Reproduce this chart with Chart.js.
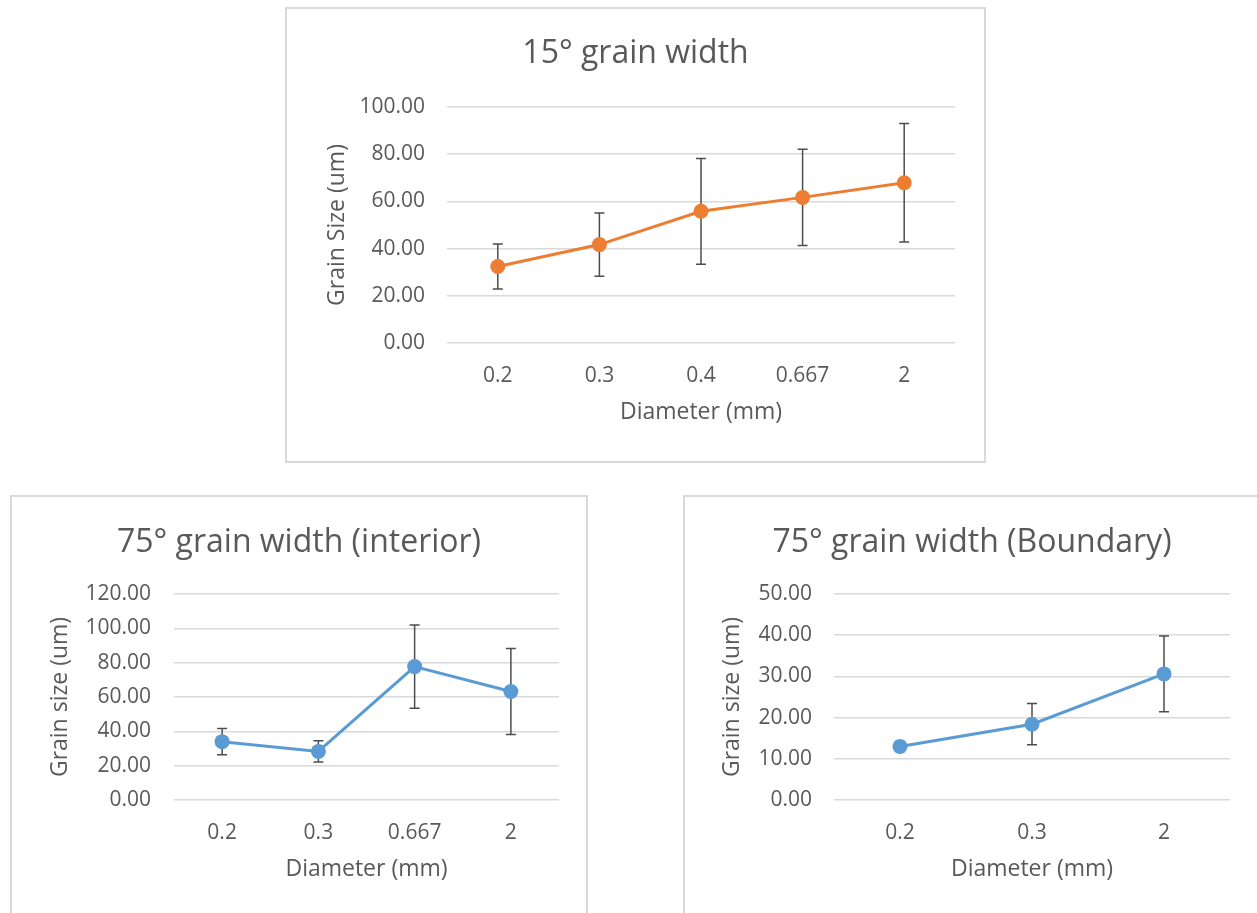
<!DOCTYPE html>
<html>
<head>
<meta charset="utf-8">
<script src="https://cdn.jsdelivr.net/npm/chart.js@4.4.1/dist/chart.umd.min.js"></script>
<style>
  html, body { margin: 0; padding: 0; background: #fff; }
  body { width: 1257px; height: 913px; overflow: hidden; position: relative; }
  .box { position: absolute; border: 2px solid #d9d9d9; box-sizing: border-box; background: #fff; }
  .box canvas { position: absolute; left: 0; top: 0; }
</style>
</head>
<body>
<div class="box" id="box15" style="left:285px; top:7px; width:701px; height:456px;">
  <canvas id="c15" width="697" height="452"></canvas>
</div>
<div class="box" id="boxInt" style="left:10px; top:495px; width:578px; height:430px;">
  <canvas id="cInt" width="574" height="416"></canvas>
</div>
<div class="box" id="boxBnd" style="left:683px; top:495px; width:578px; height:430px;">
  <canvas id="cBnd" width="574" height="416"></canvas>
</div>
<script>
// 15 degree grain width
const diam15 = ["0.2", "0.3", "0.4", "0.667", "2"];
const size15 = [32.4, 41.7, 55.8, 61.7, 67.9];
const err15 = [9.5, 13.4, 22.4, 20.4, 25.1];

// 75 degree grain width, interior
const diamInt = ["0.2", "0.3", "0.667", "2"];
const sizeInt = [34.0, 28.3, 77.7, 63.2];
const errInt = [7.6, 6.2, 24.3, 25.1];

// 75 degree grain width, boundary
const diamBnd = ["0.2", "0.3", "2"];
const sizeBnd = [13.0, 18.4, 30.6];
const errBnd = [1.2, 5.0, 9.2];

const TEXT = "#595959";
const GRID = "#d9d9d9";
const FONT = "'Open Sans', sans-serif";

// symmetric error bars drawn under the line and markers
const errorBars = {
  id: "errorBars",
  beforeDatasetsDraw(chart) {
    const { ctx } = chart;
    const y = chart.scales.y;
    const meta = chart.getDatasetMeta(0);
    const ds = chart.data.datasets[0];
    ctx.save();
    ctx.strokeStyle = "#4d4d4d";
    ctx.lineWidth = 1.5;
    meta.data.forEach((pt, i) => {
      const v = ds.data[i];
      const e = ds.errors[i];
      const top = y.getPixelForValue(v + e);
      const bot = y.getPixelForValue(v - e);
      ctx.beginPath();
      ctx.moveTo(pt.x, top);
      ctx.lineTo(pt.x, bot);
      ctx.moveTo(pt.x - 5, top);
      ctx.lineTo(pt.x + 5, top);
      ctx.moveTo(pt.x - 5, bot);
      ctx.lineTo(pt.x + 5, bot);
      ctx.stroke();
    });
    ctx.restore();
  },
};

// side padding is the same on both sides so the title stays centred in the box
function makeChart(id, cfg) {
  return new Chart(document.getElementById(id), {
    type: "line",
    data: {
      labels: cfg.labels,
      datasets: [
        {
          data: cfg.values,
          errors: cfg.errors,
          borderColor: cfg.color,
          backgroundColor: cfg.color,
          borderWidth: 3,
          pointRadius: 7.5,
          pointHoverRadius: 7.5,
          pointBorderWidth: 0,
          tension: 0,
        },
      ],
    },
    options: {
      responsive: false,
      animation: false,
      events: [],
      layout: { padding: { left: cfg.side, right: cfg.side, top: 0, bottom: cfg.bottom } },
      plugins: {
        legend: { display: false },
        tooltip: { enabled: false },
        title: {
          display: true,
          text: cfg.title,
          color: TEXT,
          font: { family: FONT, size: 32, weight: "normal" },
          padding: { top: cfg.titleTop, bottom: cfg.titleBottom },
        },
      },
      scales: {
        x: {
          offset: true,
          grid: { display: false, drawTicks: false },
          border: { display: false },
          ticks: { color: TEXT, font: { family: FONT, size: 21 }, padding: 20 },
          title: {
            display: true,
            text: "Diameter (mm)",
            color: TEXT,
            font: { family: FONT, size: 23 },
            padding: { top: 0, bottom: 1 },
          },
          afterFit(scale) { scale.height = 84; },
        },
        y: {
          min: 0,
          max: cfg.max,
          grid: { color: GRID, lineWidth: 1.5, drawTicks: false },
          border: { display: false },
          ticks: {
            stepSize: cfg.step,
            color: TEXT,
            font: { family: FONT, size: 21 },
            padding: cfg.tickPad,
            callback: (v) => v.toFixed(2),
          },
          title: {
            display: true,
            text: cfg.yTitle,
            color: TEXT,
            font: { family: FONT, size: 23 },
            padding: { top: cfg.yTitleX - cfg.side, bottom: 0 },
          },
          afterFit(scale) { scale.width = cfg.plotLeft - cfg.side; },
        },
      },
    },
    plugins: [errorBars],
  });
}

makeChart("c15", {
  labels: diam15, values: size15, errors: err15,
  color: "#ed7d31", title: "15° grain width", yTitle: "Grain Size (um)",
  max: 100, step: 20, side: 29, bottom: 34, titleTop: 26, titleBottom: 33.6,
  plotLeft: 160, tickPad: 22, yTitleX: 37,
});

makeChart("cInt", {
  labels: diamInt, values: sizeInt, errors: errInt,
  color: "#5b9bd5", title: "75° grain width (interior)", yTitle: "Grain size (um)",
  max: 120, step: 20, side: 27, bottom: 29, titleTop: 27, titleBottom: 31.6,
  plotLeft: 162, tickPad: 23, yTitleX: 35,
});

makeChart("cBnd", {
  labels: diamBnd, values: sizeBnd, errors: errBnd,
  color: "#5b9bd5", title: "75° grain width (Boundary)", yTitle: "Grain size (um)",
  max: 50, step: 10, side: 29, bottom: 29, titleTop: 27, titleBottom: 31.6,
  plotLeft: 149, tickPad: 22, yTitleX: 34,
});
</script>
</body>
</html>
